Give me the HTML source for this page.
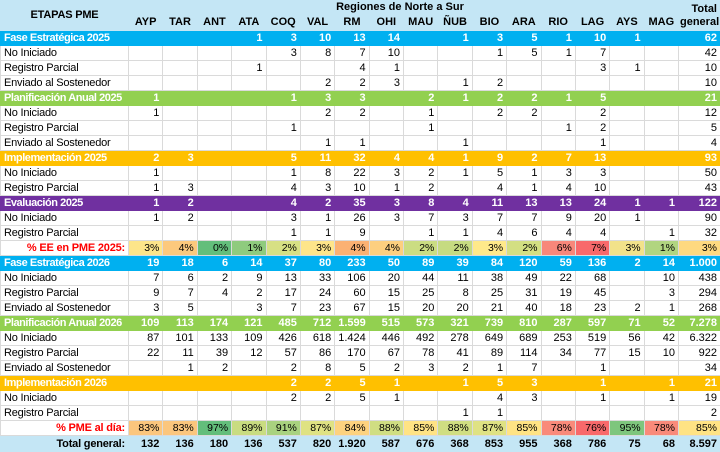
<!DOCTYPE html>
<html><head><meta charset="utf-8"><style>
html,body{margin:0;padding:0;background:#fff;width:720px;height:452px;overflow:hidden}
body{font-family:"Liberation Sans",Arial,sans-serif;font-size:11px;color:#000;position:relative}
table{border-collapse:collapse;table-layout:fixed;width:720px;position:absolute;left:0;top:0}
td{height:15px;padding:0 3px;border:1px solid #dadada;text-align:right;white-space:nowrap;overflow:hidden;line-height:13px;box-sizing:border-box}
td:first-child{text-align:left;overflow:visible;letter-spacing:-0.2px}
tr.h td{height:30px;background:#c4e6f5;border-color:#c4e6f5;font-weight:bold;vertical-align:bottom;text-align:center;padding:0 1px 1px}
tr.h td.tg{text-align:right;line-height:13px;padding-right:3px;overflow:visible}
tr.s td{color:#fff;font-weight:bold}
tr.s td:first-child{letter-spacing:-0.45px}
tr.b td{background:#00b0f0;border-color:#00b0f0}
tr.g td{background:#92d050;border-color:#92d050}
tr.o td{background:#ffc000;border-color:#ffc000}
tr.p td{background:#7030a0;border-color:#7030a0}
tr.pc td{font-size:10.5px}
tr.pc td:first-child{text-align:right;color:#ff0000;font-weight:bold;font-size:11px}
tr.t td{background:#c4e6f5;border-color:#c4e6f5;font-weight:bold;height:17px}
tr.t td:first-child{text-align:right}
#reg{position:absolute;left:300px;top:1px;width:200px;text-align:center;font-weight:bold;font-size:11px}
</style></head><body>
<table>
<colgroup><col style="width:128px"><col span="16" style="width:34.375px"><col style="width:42px"></colgroup>
<tr class="h"><td style="text-align:center;vertical-align:top;padding-top:8px">ETAPAS PME</td><td>AYP</td><td>TAR</td><td>ANT</td><td>ATA</td><td>COQ</td><td>VAL</td><td>RM</td><td>OHI</td><td>MAU</td><td>ÑUB</td><td>BIO</td><td>ARA</td><td>RIO</td><td>LAG</td><td>AYS</td><td>MAG</td><td class="tg">Total<br>general</td></tr>
<tr class="s b"><td>Fase Estratégica 2025</td><td></td><td></td><td></td><td>1</td><td>3</td><td>10</td><td>13</td><td>14</td><td></td><td>1</td><td>3</td><td>5</td><td>1</td><td>10</td><td>1</td><td></td><td>62</td></tr>
<tr><td>No Iniciado</td><td></td><td></td><td></td><td></td><td>3</td><td>8</td><td>7</td><td>10</td><td></td><td></td><td>1</td><td>5</td><td>1</td><td>7</td><td></td><td></td><td>42</td></tr>
<tr><td>Registro Parcial</td><td></td><td></td><td></td><td>1</td><td></td><td></td><td>4</td><td>1</td><td></td><td></td><td></td><td></td><td></td><td>3</td><td>1</td><td></td><td>10</td></tr>
<tr><td>Enviado al Sostenedor</td><td></td><td></td><td></td><td></td><td></td><td>2</td><td>2</td><td>3</td><td></td><td>1</td><td>2</td><td></td><td></td><td></td><td></td><td></td><td>10</td></tr>
<tr class="s g"><td>Planificación Anual 2025</td><td>1</td><td></td><td></td><td></td><td>1</td><td>3</td><td>3</td><td></td><td>2</td><td>1</td><td>2</td><td>2</td><td>1</td><td>5</td><td></td><td></td><td>21</td></tr>
<tr><td>No Iniciado</td><td>1</td><td></td><td></td><td></td><td></td><td>2</td><td>2</td><td></td><td>1</td><td></td><td>2</td><td>2</td><td></td><td>2</td><td></td><td></td><td>12</td></tr>
<tr><td>Registro Parcial</td><td></td><td></td><td></td><td></td><td>1</td><td></td><td></td><td></td><td>1</td><td></td><td></td><td></td><td>1</td><td>2</td><td></td><td></td><td>5</td></tr>
<tr><td>Enviado al Sostenedor</td><td></td><td></td><td></td><td></td><td></td><td>1</td><td>1</td><td></td><td></td><td>1</td><td></td><td></td><td></td><td>1</td><td></td><td></td><td>4</td></tr>
<tr class="s o"><td>Implementación 2025</td><td>2</td><td>3</td><td></td><td></td><td>5</td><td>11</td><td>32</td><td>4</td><td>4</td><td>1</td><td>9</td><td>2</td><td>7</td><td>13</td><td></td><td></td><td>93</td></tr>
<tr><td>No Iniciado</td><td>1</td><td></td><td></td><td></td><td>1</td><td>8</td><td>22</td><td>3</td><td>2</td><td>1</td><td>5</td><td>1</td><td>3</td><td>3</td><td></td><td></td><td>50</td></tr>
<tr><td>Registro Parcial</td><td>1</td><td>3</td><td></td><td></td><td>4</td><td>3</td><td>10</td><td>1</td><td>2</td><td></td><td>4</td><td>1</td><td>4</td><td>10</td><td></td><td></td><td>43</td></tr>
<tr class="s p"><td>Evaluación 2025</td><td>1</td><td>2</td><td></td><td></td><td>4</td><td>2</td><td>35</td><td>3</td><td>8</td><td>4</td><td>11</td><td>13</td><td>13</td><td>24</td><td>1</td><td>1</td><td>122</td></tr>
<tr><td>No Iniciado</td><td>1</td><td>2</td><td></td><td></td><td>3</td><td>1</td><td>26</td><td>3</td><td>7</td><td>3</td><td>7</td><td>7</td><td>9</td><td>20</td><td>1</td><td></td><td>90</td></tr>
<tr><td>Registro Parcial</td><td></td><td></td><td></td><td></td><td>1</td><td>1</td><td>9</td><td></td><td>1</td><td>1</td><td>4</td><td>6</td><td>4</td><td>4</td><td></td><td>1</td><td>32</td></tr>
<tr class="pc"><td>% EE en PME 2025:</td><td style="background:#fde58a">3%</td><td style="background:#fcc97d">4%</td><td style="background:#63be7b">0%</td><td style="background:#8fcb7e">1%</td><td style="background:#d7e084">2%</td><td style="background:#fee58a">3%</td><td style="background:#fbb173">4%</td><td style="background:#fdcf7f">4%</td><td style="background:#cbdd82">2%</td><td style="background:#c6db81">2%</td><td style="background:#ffe98a">3%</td><td style="background:#d3df82">2%</td><td style="background:#f8877a">6%</td><td style="background:#f8696b">7%</td><td style="background:#f2e28a">3%</td><td style="background:#b1d580">1%</td><td style="background:#fed980">3%</td></tr>
<tr class="s b"><td>Fase Estratégica 2026</td><td>19</td><td>18</td><td>6</td><td>14</td><td>37</td><td>80</td><td>233</td><td>50</td><td>89</td><td>39</td><td>84</td><td>120</td><td>59</td><td>136</td><td>2</td><td>14</td><td>1.000</td></tr>
<tr><td>No Iniciado</td><td>7</td><td>6</td><td>2</td><td>9</td><td>13</td><td>33</td><td>106</td><td>20</td><td>44</td><td>11</td><td>38</td><td>49</td><td>22</td><td>68</td><td></td><td>10</td><td>438</td></tr>
<tr><td>Registro Parcial</td><td>9</td><td>7</td><td>4</td><td>2</td><td>17</td><td>24</td><td>60</td><td>15</td><td>25</td><td>8</td><td>25</td><td>31</td><td>19</td><td>45</td><td></td><td>3</td><td>294</td></tr>
<tr><td>Enviado al Sostenedor</td><td>3</td><td>5</td><td></td><td>3</td><td>7</td><td>23</td><td>67</td><td>15</td><td>20</td><td>20</td><td>21</td><td>40</td><td>18</td><td>23</td><td>2</td><td>1</td><td>268</td></tr>
<tr class="s g"><td>Planificación Anual 2026</td><td>109</td><td>113</td><td>174</td><td>121</td><td>485</td><td>712</td><td>1.599</td><td>515</td><td>573</td><td>321</td><td>739</td><td>810</td><td>287</td><td>597</td><td>71</td><td>52</td><td>7.278</td></tr>
<tr><td>No Iniciado</td><td>87</td><td>101</td><td>133</td><td>109</td><td>426</td><td>618</td><td>1.424</td><td>446</td><td>492</td><td>278</td><td>649</td><td>689</td><td>253</td><td>519</td><td>56</td><td>42</td><td>6.322</td></tr>
<tr><td>Registro Parcial</td><td>22</td><td>11</td><td>39</td><td>12</td><td>57</td><td>86</td><td>170</td><td>67</td><td>78</td><td>41</td><td>89</td><td>114</td><td>34</td><td>77</td><td>15</td><td>10</td><td>922</td></tr>
<tr><td>Enviado al Sostenedor</td><td></td><td>1</td><td>2</td><td></td><td>2</td><td>8</td><td>5</td><td>2</td><td>3</td><td>2</td><td>1</td><td>7</td><td></td><td>1</td><td></td><td></td><td>34</td></tr>
<tr class="s o"><td>Implementación 2026</td><td></td><td></td><td></td><td></td><td>2</td><td>2</td><td>5</td><td>1</td><td></td><td>1</td><td>5</td><td>3</td><td></td><td>1</td><td></td><td>1</td><td>21</td></tr>
<tr><td>No Iniciado</td><td></td><td></td><td></td><td></td><td>2</td><td>2</td><td>5</td><td>1</td><td></td><td></td><td>4</td><td>3</td><td></td><td>1</td><td></td><td>1</td><td>19</td></tr>
<tr><td>Registro Parcial</td><td></td><td></td><td></td><td></td><td></td><td></td><td></td><td></td><td></td><td>1</td><td>1</td><td></td><td></td><td></td><td></td><td></td><td>2</td></tr>
<tr class="pc"><td>% PME al día:</td><td style="background:#fbc67d">83%</td><td style="background:#fbc67d">83%</td><td style="background:#63be7b">97%</td><td style="background:#c9dc81">89%</td><td style="background:#a9d27f">91%</td><td style="background:#dfe283">87%</td><td style="background:#fdd27f">84%</td><td style="background:#d0de82">88%</td><td style="background:#ffe384">85%</td><td style="background:#d0de82">88%</td><td style="background:#dfe283">87%</td><td style="background:#ffe384">85%</td><td style="background:#f98a7a">78%</td><td style="background:#f8696b">76%</td><td style="background:#7ec67d">95%</td><td style="background:#f98a7a">78%</td><td style="background:#ffe384">85%</td></tr>
<tr class="t"><td>Total general:</td><td>132</td><td>136</td><td>180</td><td>136</td><td>537</td><td>820</td><td>1.920</td><td>587</td><td>676</td><td>368</td><td>853</td><td>955</td><td>368</td><td>786</td><td>75</td><td>68</td><td>8.597</td></tr>
</table>
<div id="reg">Regiones de Norte a Sur</div>
</body></html>
